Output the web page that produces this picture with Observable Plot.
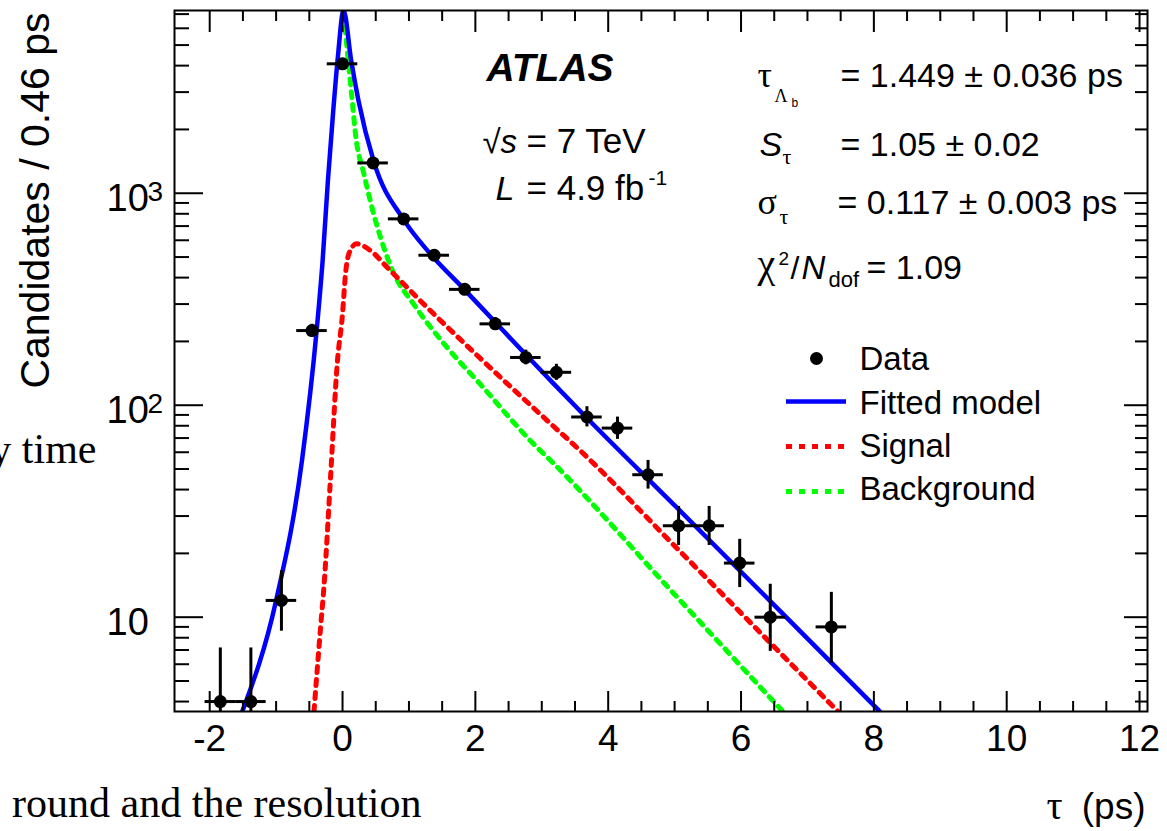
<!DOCTYPE html>
<html>
<head>
<meta charset="utf-8">
<script src="https://cdn.jsdelivr.net/npm/d3@7"></script>
<script src="https://cdn.jsdelivr.net/npm/@observablehq/plot@0.6"></script>
<style>
  html, body { margin: 0; padding: 0; background: #ffffff; }
  #chart svg { display: block; }
</style>
</head>
<body>
<div id="chart"></div>
<script>
// ---------------- data ----------------
const binCenters = [-1.84, -1.38, -0.92, -0.46, 0.00, 0.46, 0.92, 1.38, 1.84, 2.30, 2.76, 3.22, 3.68, 4.14, 4.60, 5.06, 5.52, 5.98, 6.44, 7.36];
const counts     = [4, 4, 12, 225, 4080, 1390, 757, 510, 352, 242, 168, 143, 88, 78, 47, 27, 27, 18, 10, 9];
const errLow     = [2.09, 2.09, 8.59, 210, 4016, 1353, 730, 488, 333, 227, 155, 131, 79, 69, 40.2, 21.8, 21.8, 13.8, 6.9, 6.06];
const errHigh    = [7.16, 7.16, 16.56, 241, 4145, 1428, 785, 534, 372, 259, 182, 156, 98.4, 87.9, 54.9, 33.3, 33.3, 23.3, 14.3, 13.1];
const binHalfWidth = 0.23;

const fitX = [-1.51, -1.0, -0.61, -0.39, -0.30, -0.22, -0.14, -0.07, 0.015, 0.13, 0.24, 0.47, 0.92, 1.28, 1.84, 3.13, 3.65, 5.0, 6.5, 8.09];
const fitY = [3.59, 12, 55, 225, 480, 1150, 2450, 4400, 7280, 4230, 2735, 1413, 751, 536, 350, 131, 89, 33.7, 11.4, 3.59];

const sigX = [-0.43, -0.33, -0.28, -0.18, -0.08, 0.0, 0.045, 0.095, 0.21, 0.42, 0.67, 0.97, 1.27, 2.0, 3.13, 3.58, 5.0, 7.46];
const sigY = [3.59, 9, 13.9, 46, 157, 270, 417, 518, 577, 537, 448, 360, 290, 175, 82, 61, 21.7, 3.59];

const bkgX = [0.02, 0.095, 0.146, 0.195, 0.32, 0.52, 0.77, 1.07, 1.57, 2.07, 2.87, 3.13, 5.0, 6.63];
const bkgY = [7000, 3930, 2735, 1905, 1240, 700, 420, 300, 188, 126, 66, 55, 12.8, 3.59];

const xMajorTicks = [-2, 0, 2, 4, 6, 8, 10, 12];
const xMinorTicks = [-1.5, -1, -0.5, 0.5, 1, 1.5, 2.5, 3, 3.5, 4.5, 5, 5.5, 6.5, 7, 7.5, 8.5, 9, 9.5, 10.5, 11, 11.5];
const yMajorTicks = [10, 100, 1000];
const yMajorBase  = ["10", "10", "10"];
const yMajorExp   = ["", "2", "3"];
const yMinorTicks = [4, 5, 6, 7, 8, 9, 20, 30, 40, 50, 60, 70, 80, 90, 200, 300, 400, 500, 600, 700, 800, 900, 2000, 3000, 4000, 5000, 6000, 7000];

const legendLabels = ["Data", "Fitted model", "Signal", "Background"];
const legendColors = ["black", "#0000ff", "#ff0000", "#00ff00"];

// ---------------- tables built from the arrays ----------------
const points = binCenters.map((x, i) => ({x, n: counts[i], lo: errLow[i], hi: errHigh[i], xe: binHalfWidth}));
const fit = fitX.map((x, i) => ({x, y: fitY[i]}));
const sig = sigX.map((x, i) => ({x, y: sigY[i]}));
const bkg = bkgX.map((x, i) => ({x, y: bkgY[i]}));
const yLabels = yMajorTicks.map((v, i) => ({v, base: yMajorBase[i], exp: yMajorExp[i]}));

// ---------------- layout ----------------
const W = 1167, H = 831;
const mL = 174, mR = 20, mT = 10, mB = 120;
const xDomain = [-2.53, 12.12];
const yDomain = [3.59, 7280];
const xPix = d3.scaleLinear(xDomain, [mL, W - mR]);
const yPix = d3.scaleLog(yDomain, [H - mB, mT]);

const SANS = "'Liberation Sans', Arial, Helvetica, sans-serif";
const SERIF = "'Liberation Serif', 'Times New Roman', serif";

// text placed relative to the page (converted to an offset from the frame's top-left)
function note(t, px, baseline, o = {}) {
  return Plot.text([t], {
    text: d => d, frameAnchor: "top-left", dx: px - mL, dy: baseline - mT,
    textAnchor: o.anchor || "start", lineAnchor: "bottom",
    fontSize: o.size || 34, fontFamily: o.family || SANS,
    fontStyle: o.style || "normal", fontWeight: o.weight || "normal",
    fill: "black", rotate: o.rotate || 0
  });
}

const tickOpts = {stroke: "black", strokeWidth: 2, fill: "none", label: null};
const dotted = "6,7";
const dottedWidth = 5;

const legendRows = [358, 401, 446, 491];
const legendBase = [369, 413, 456, 499];
const legendSwatch = legendLabels.slice(1).map((label, i) => ({
  label, y: yPix.invert(legendRows[i + 1]), x1: xPix.invert(786), x2: xPix.invert(846), c: legendColors[i + 1]
}));

const chart = Plot.plot({
  width: W, height: H,
  marginLeft: mL, marginRight: mR, marginTop: mT, marginBottom: mB,
  style: {fontFamily: SANS, background: "white", color: "black", overflow: "visible"},
  x: {domain: xDomain},
  y: {type: "log", domain: yDomain},
  marks: [
    // curves
    Plot.line(bkg, {x: "x", y: "y", curve: "monotone-x", stroke: "#00ff00", strokeWidth: dottedWidth, strokeDasharray: dotted, clip: true}),
    Plot.line(sig, {x: "x", y: "y", curve: "monotone-x", stroke: "#ff0000", strokeWidth: dottedWidth, strokeDasharray: dotted, clip: true}),
    Plot.line(fit, {x: "x", y: "y", curve: "monotone-x", stroke: "#0000ff", strokeWidth: 4.5, clip: true}),
    // data with error bars
    Plot.ruleX(points, {x: "x", y1: "lo", y2: "hi", stroke: "black", strokeWidth: 3, clip: true}),
    Plot.ruleY(points, {y: "n", x1: d => d.x - d.xe, x2: d => d.x + d.xe, stroke: "black", strokeWidth: 3, clip: true}),
    Plot.dot(points, {x: "x", y: "n", r: 6.5, fill: "black", stroke: "none", clip: true}),
    // frame and inward ticks on all four sides
    Plot.frame({stroke: "black", strokeWidth: 2}),
    Plot.axisX(xMajorTicks, {anchor: "bottom", tickSize: -20, ...tickOpts}),
    Plot.axisX(xMinorTicks, {anchor: "bottom", tickSize: -10, ...tickOpts}),
    Plot.axisX(xMajorTicks, {anchor: "top", tickSize: -21, ...tickOpts}),
    Plot.axisX(xMinorTicks, {anchor: "top", tickSize: -10, ...tickOpts}),
    Plot.axisY(yMajorTicks, {anchor: "left", tickSize: -29, ...tickOpts}),
    Plot.axisY(yMinorTicks, {anchor: "left", tickSize: -15, ...tickOpts}),
    Plot.axisY(yMajorTicks, {anchor: "right", tickSize: -24, ...tickOpts}),
    Plot.axisY(yMinorTicks, {anchor: "right", tickSize: -13, ...tickOpts}),
    // tick labels
    Plot.text(xMajorTicks, {x: d => d, text: d => String(d), frameAnchor: "bottom", dy: 39, lineAnchor: "bottom", fontSize: 37, fill: "black"}),
    Plot.text(yLabels, {y: "v", text: "base", frameAnchor: "left", dx: -68, dy: 18, textAnchor: "start", lineAnchor: "bottom", fontSize: 38, fill: "black"}),
    Plot.text(yLabels, {y: "v", text: "exp", frameAnchor: "left", dx: -27, dy: 8, textAnchor: "start", lineAnchor: "bottom", fontSize: 28, fill: "black"}),
    // axis titles
    note("Candidates / 0.46 ps", 48, 12, {size: 41, anchor: "end", rotate: -90}),
    note("τ", 1046, 818, {size: 40, family: SERIF}),
    note("(ps)", 1145, 818, {size: 37, anchor: "end"}),
    // ATLAS block
    note("ATLAS", 486, 80, {size: 39, weight: "bold", style: "italic"}),
    note("√", 482, 152, {size: 33}),
    note("s", 500, 152, {size: 33, style: "italic"}),
    note("= 7 TeV", 526, 152, {size: 35}),
    note("L", 495, 199, {size: 34, style: "italic"}),
    note("= 4.9 fb", 526, 199, {size: 35}),
    note("-1", 648, 184, {size: 21}),
    // fit results
    note("τ", 757, 86, {size: 36, family: SERIF}),
    note("Λ", 774, 101, {size: 18, family: SERIF}),
    note("b", 791, 106, {size: 12}),
    note("= 1.449 ± 0.036 ps", 840, 86, {size: 34}),
    note("S", 759, 155, {size: 34, style: "italic"}),
    note("τ", 782, 163, {size: 22, family: SERIF}),
    note("= 1.05 ± 0.02", 840, 155, {size: 34}),
    note("σ", 757, 213, {size: 36, family: SERIF}),
    note("τ", 779, 223, {size: 22, family: SERIF}),
    note("= 0.117 ± 0.003 ps", 837, 213, {size: 34}),
    note("χ", 757, 276, {size: 40, family: SERIF}),
    note("2", 778, 264, {size: 19}),
    note("/", 790, 278, {size: 32}),
    note("N", 801, 278, {size: 33, style: "italic"}),
    note("dof", 828, 286, {size: 22}),
    note("= 1.09", 866, 278, {size: 34}),
    // legend
    Plot.dot([{x: xPix.invert(816), y: yPix.invert(legendRows[0])}], {x: "x", y: "y", r: 6.5, fill: "black"}),
    Plot.ruleY(legendSwatch.slice(0, 1), {y: "y", x1: "x1", x2: "x2", stroke: "c", strokeWidth: 4.5}),
    Plot.ruleY(legendSwatch.slice(1), {y: "y", x1: "x1", x2: "x2", stroke: "c", strokeWidth: dottedWidth, strokeDasharray: dotted}),
    ...legendLabels.map((t, i) => note(t, 859, legendBase[i], {size: 33})),
    // fragments of the surrounding page text visible in the crop
    note("y time", 96, 462, {size: 42, family: SERIF, anchor: "end"}),
    note("round and the resolution", 421, 816, {size: 42, family: SERIF, anchor: "end"})
  ]
});

document.getElementById("chart").append(chart);
</script>
</body>
</html>
